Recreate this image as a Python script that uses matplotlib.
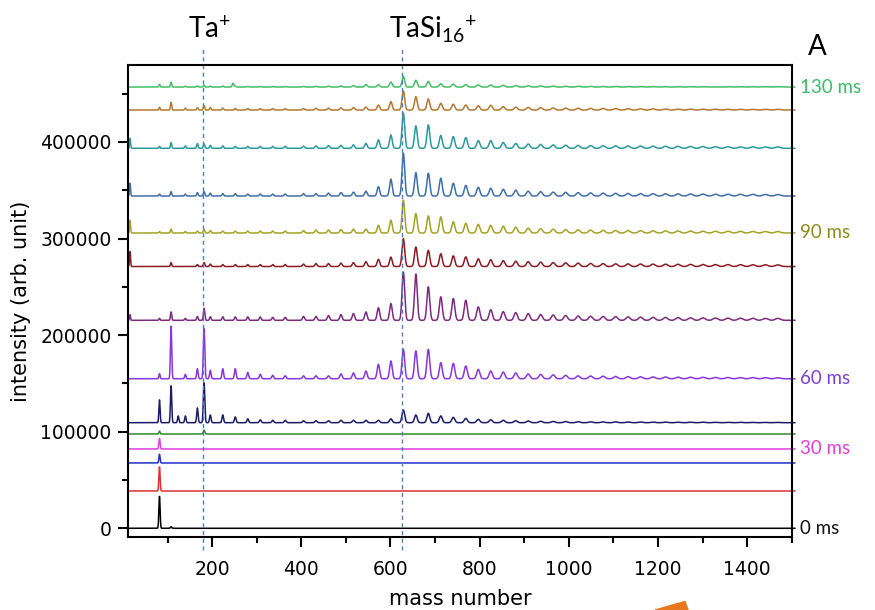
import numpy as np
import matplotlib
matplotlib.use('Agg')
import matplotlib.pyplot as plt
import matplotlib.transforms as mtransforms
from matplotlib.ticker import MultipleLocator
from matplotlib.patches import Polygon

# delay times of the 14 stacked spectra, top to bottom (ms)
delays = [130, 120, 110, 100, 90, 80, 70, 60, 50, 40, 30, 20, 10, 0]
offsets = [456800, 433000, 393400, 344000, 305700, 271000, 215300,
           154800, 109300, 97600, 82100, 67600, 38600, 0]
colors = ['#43bf62', '#b5782f', '#2b9a9e', '#3f6fa8', '#a3a324', '#8b1c24',
          '#7d2a80', '#8b35dc', '#1c1c6a', '#2e8b2e', '#e040e0', '#2030c8',
          '#e03030', '#000000']
label_colors = {130: '#3dbb6a', 90: '#8c8c1c', 60: '#7d3fcf', 30: '#dd3fd8', 0: '#111111'}

# low-mass peaks (Si_n, Ta+ ...) : mass numbers and heights (x1000) per delay
low_mass = [16, 82, 108, 124, 140, 167, 182, 196, 224, 252, 280, 308, 336, 364, 247]
low_130 = [0, 2.8, 5.2, 0, 1.0, 1.2, 2.0, 1.0, 1.0, 0.8, 0.6, 0.5, 0.5, 0.5, 4.0]
low_120 = [0, 2.8, 8.0, 0, 2.0, 2.5, 4.5, 2.5, 2.0, 1.5, 1.5, 1.5, 1.5, 1.5, 0]
low_110 = [10.4, 2.0, 5.9, 0, 2.5, 5.0, 4.5, 3.0, 2.5, 2.0, 2.0, 2.0, 2.0, 2.0, 0]
low_100 = [13.2, 2.0, 4.5, 0, 2.0, 3.5, 4.5, 3.0, 2.5, 2.5, 2.0, 2.0, 2.0, 2.0, 0]
low_90 = [13.2, 1.5, 4.0, 0, 1.5, 2.0, 3.5, 2.5, 2.0, 2.0, 2.0, 2.0, 2.0, 2.0, 0]
low_80 = [15.6, 0, 4.0, 0, 0, 2.0, 4.0, 2.5, 2.0, 2.0, 2.0, 2.0, 2.0, 2.0, 0]
low_70 = [5.9, 2.0, 8.7, 0, 2.0, 4.0, 12.5, 3.7, 3.7, 3.5, 3.5, 3.5, 3.0, 3.0, 0]
low_60 = [0, 5.2, 54.5, 0, 4.5, 10.4, 52.1, 8.7, 10.4, 10.4, 6.5, 4.5, 3.5, 3.0, 0]
low_50 = [0, 23.6, 38.2, 7.0, 7.0, 15.3, 41.3, 8.0, 8.0, 6.0, 4.0, 3.0, 2.5, 2.5, 0]
low_40 = [0, 3.0, 0, 0, 0, 0, 4.0, 0, 0, 0, 0, 0, 0, 0, 0]
low_30 = [0, 11.0, 0, 0, 0, 0, 0, 0, 0, 0, 0, 0, 0, 0, 0]
low_20 = [0, 9.0, 0, 0, 0, 0, 0, 0, 0, 0, 0, 0, 0, 0, 0]
low_10 = [0, 25.0, 0, 0, 0, 0, 0, 0, 0, 0, 0, 0, 0, 0, 0]
low_0 = [0, 33.0, 1.5, 0, 0, 0, 0, 0, 0, 0, 0, 0, 0, 0, 0]

# TaSi_n+ cluster series, n = 8..46 (mass 181 + 28 n), heights x1000
cluster_n = np.arange(8, 47)
cl_130 = [0.6, 0.8, 1.0, 1.2, 1.5, 2.5, 2.4, 5.2, 11.0, 7.0, 5.9, 3.5, 3.0, 2.5, 2.2, 2.0, 1.8,
          1.5, 1.3, 1.2, 1.0, 0.9, 0.8, 0.7, 0.6, 0.6, 0.5, 0.5, 0.5, 0.4, 0.4, 0.4, 0.3,
          0.3, 0.3, 0.3, 0.3, 0.3, 0.3]
cl_120 = [1.5, 1.8, 2.0, 2.2, 2.5, 3.0, 5.2, 8.7, 19.8, 13.9, 11.5, 7.0, 6.0, 5.2, 4.5, 5.0, 3.5,
          3.0, 2.8, 2.5, 2.2, 2.0, 1.8, 1.7, 1.6, 1.5, 1.4, 1.3, 1.2, 1.1, 1.0, 1.0, 0.9,
          0.9, 0.8, 0.8, 0.7, 0.7, 0.7]
cl_110 = [2.2, 2.5, 2.8, 3.0, 3.5, 5.0, 8.7, 13.9, 36.5, 23.2, 24.3, 13.3, 12.1, 11.0, 8.0, 8.0,
          6.0, 5.0, 4.5, 4.0, 3.5, 3.2, 3.0, 2.8, 2.6, 2.5, 2.4, 2.3, 2.2, 2.1, 2.0, 1.9,
          1.8, 1.7, 1.6, 1.5, 1.5, 1.4, 1.4]
cl_100 = [2.5, 2.5, 3.0, 3.5, 4.0, 5.0, 9.7, 17.4, 44.4, 24.3, 23.6, 18.4, 13.2, 11.0, 9.0, 8.0,
          7.0, 6.0, 5.0, 4.5, 4.0, 3.8, 3.5, 3.2, 3.0, 2.8, 2.6, 2.5, 2.4, 2.3, 2.2, 2.1,
          2.0, 1.9, 1.8, 1.8, 1.7, 1.6, 1.5]
cl_90 = [2.5, 3.0, 3.0, 3.5, 4.0, 4.0, 8.0, 13.2, 34.0, 20.1, 17.7, 16.7, 11.5, 10.0, 9.0, 8.0,
         7.0, 6.0, 5.0, 4.5, 4.0, 3.5, 3.3, 3.0, 2.8, 2.6, 2.5, 2.4, 2.3, 2.2, 2.1, 2.0,
         1.9, 1.8, 1.8, 1.7, 1.6, 1.5, 1.5]
cl_80 = [2.5, 3.0, 3.0, 3.5, 4.0, 5.0, 7.5, 9.7, 28.8, 20.1, 16.7, 13.2, 11.0, 10.0, 8.0, 7.0,
         6.0, 5.5, 5.0, 4.5, 4.0, 3.8, 3.5, 3.2, 3.0, 2.8, 2.7, 2.6, 2.5, 2.4, 2.3, 2.2,
         2.1, 2.0, 2.0, 1.9, 1.8, 1.8, 1.7]
cl_70 = [4.0, 4.0, 5.0, 6.0, 7.0, 8.7, 13.0, 17.4, 50.0, 47.9, 34.7, 24.3, 22.6, 20.8, 13.9,
         11.0, 9.0, 8.0, 7.0, 6.0, 5.5, 5.0, 4.5, 4.2, 4.0, 3.8, 3.5, 3.3, 3.1, 3.0, 2.8,
         2.6, 2.5, 2.4, 2.3, 2.2, 2.1, 2.0, 2.0]
cl_60 = [3.0, 3.0, 3.0, 5.0, 6.0, 8.0, 14.9, 18.4, 30.5, 28.8, 30.5, 16.7, 15.9, 13.2, 9.7, 8.0,
         7.0, 6.0, 5.0, 4.5, 4.0, 3.5, 3.0, 2.8, 2.6, 2.4, 2.2, 2.0, 1.9, 1.8, 1.7, 1.6,
         1.5, 1.4, 1.3, 1.2, 1.2, 1.1, 1.0]
cl_50 = [2.0, 2.0, 2.0, 2.5, 2.5, 2.5, 2.5, 4.0, 13.2, 8.0, 9.7, 7.0, 5.5, 4.5, 3.5, 3.0, 2.5,
         2.0, 1.8, 1.5, 1.3, 1.2, 1.0, 0.9, 0.8, 0.8, 0.7, 0.7, 0.6, 0.6, 0.5, 0.5, 0.5,
         0.4, 0.4, 0.4, 0.3, 0.3, 0.3]

low_all = [low_130, low_120, low_110, low_100, low_90, low_80, low_70,
           low_60, low_50, low_40, low_30, low_20, low_10, low_0]
cl_all = [cl_130, cl_120, cl_110, cl_100, cl_90, cl_80, cl_70,
          cl_60, cl_50, None, None, None, None, None]

ta_mass = 181
tasi16_mass = 627


def peak_width(m):
    return 1.1 + 0.003 * np.asarray(m, dtype=float)


def spectrum(x, masses, heights):
    y = np.zeros_like(x)
    for m, h in zip(masses, heights):
        if h:
            s = peak_width(m)
            y += h * 1000 * np.exp(-0.5 * ((x - m) / s) ** 2)
    return y


fig = plt.figure(figsize=(8.75, 6.1), dpi=100)
ax = fig.add_axes([0.1466, 0.1202, 0.7582, 0.7732])

x = np.linspace(12, 1507, 8000)
cl_mass = ta_mass + 28 * cluster_n
for d, off, col, low, cl in zip(delays, offsets, colors, low_all, cl_all):
    y = spectrum(x, low_mass, low)
    if cl is not None:
        y += spectrum(x, cl_mass, cl)
    ax.plot(x, y + off, color=col, lw=1.1, clip_on=False)
    if d in label_colors:
        ax.text(1.013, off, f'{d} ms', transform=mtransforms.blended_transform_factory(ax.transAxes, ax.transData),
                color=label_colors[d], fontsize=13.5, family='Lato', va='center', ha='left')

ax.set_xlim(12, 1500)
ax.set_ylim(-8700, 479600)

# dashed guide lines for Ta+ and TaSi16+
trans = mtransforms.blended_transform_factory(ax.transData, ax.transAxes)
for m in (ta_mass - 2, tasi16_mass):
    ax.plot([m, m], [-0.028, 1.038], transform=trans, clip_on=False,
            color='#4f7fb5', lw=1.0, ls=(0, (3, 2.5)))

ax.text(ta_mass + 12, 1.0566, r'$\mathregular{Ta^{+}}$', transform=trans, fontsize=20,
        family='Lato', ha='center', va='baseline')
ax.text(tasi16_mass + 68, 1.0566, r'$\mathregular{TaSi_{16}{}^{+}}$', transform=trans, fontsize=20,
        family='Lato', ha='center', va='baseline')
ax.text(1.0245, 1.0205, 'A', transform=ax.transAxes, fontsize=20, family='Lato',
        ha='left', va='baseline')

ax.xaxis.set_major_locator(MultipleLocator(200))
ax.xaxis.set_minor_locator(MultipleLocator(100))
ax.yaxis.set_major_locator(MultipleLocator(100000))
ax.yaxis.set_minor_locator(MultipleLocator(50000))
ax.tick_params(which='major', direction='out', length=7, width=1.5, labelsize=13.5)
ax.tick_params(which='minor', direction='out', length=4.5, width=1.5)
ax.tick_params(axis='x', which='major', pad=10)
ax.tick_params(axis='y', which='major', pad=5)
ax.tick_params(top=False, right=False, which='both')
for sp in ax.spines.values():
    sp.set_linewidth(1.5)

ax.set_xlabel('mass number', fontsize=15, labelpad=7)
ax.set_ylabel('intensity (arb. unit)', fontsize=15, labelpad=7)

# orange arrow tip peeking in at the bottom edge
W, H = 875.0, 610.0
tri = [(655, 610), (685, 601.5), (688, 610)]
fig.patches.append(Polygon([(px / W, 1 - py / H) for px, py in tri], closed=True,
                           transform=fig.transFigure, color='#e8771e'))

fig.savefig('out.png', dpi=100)
